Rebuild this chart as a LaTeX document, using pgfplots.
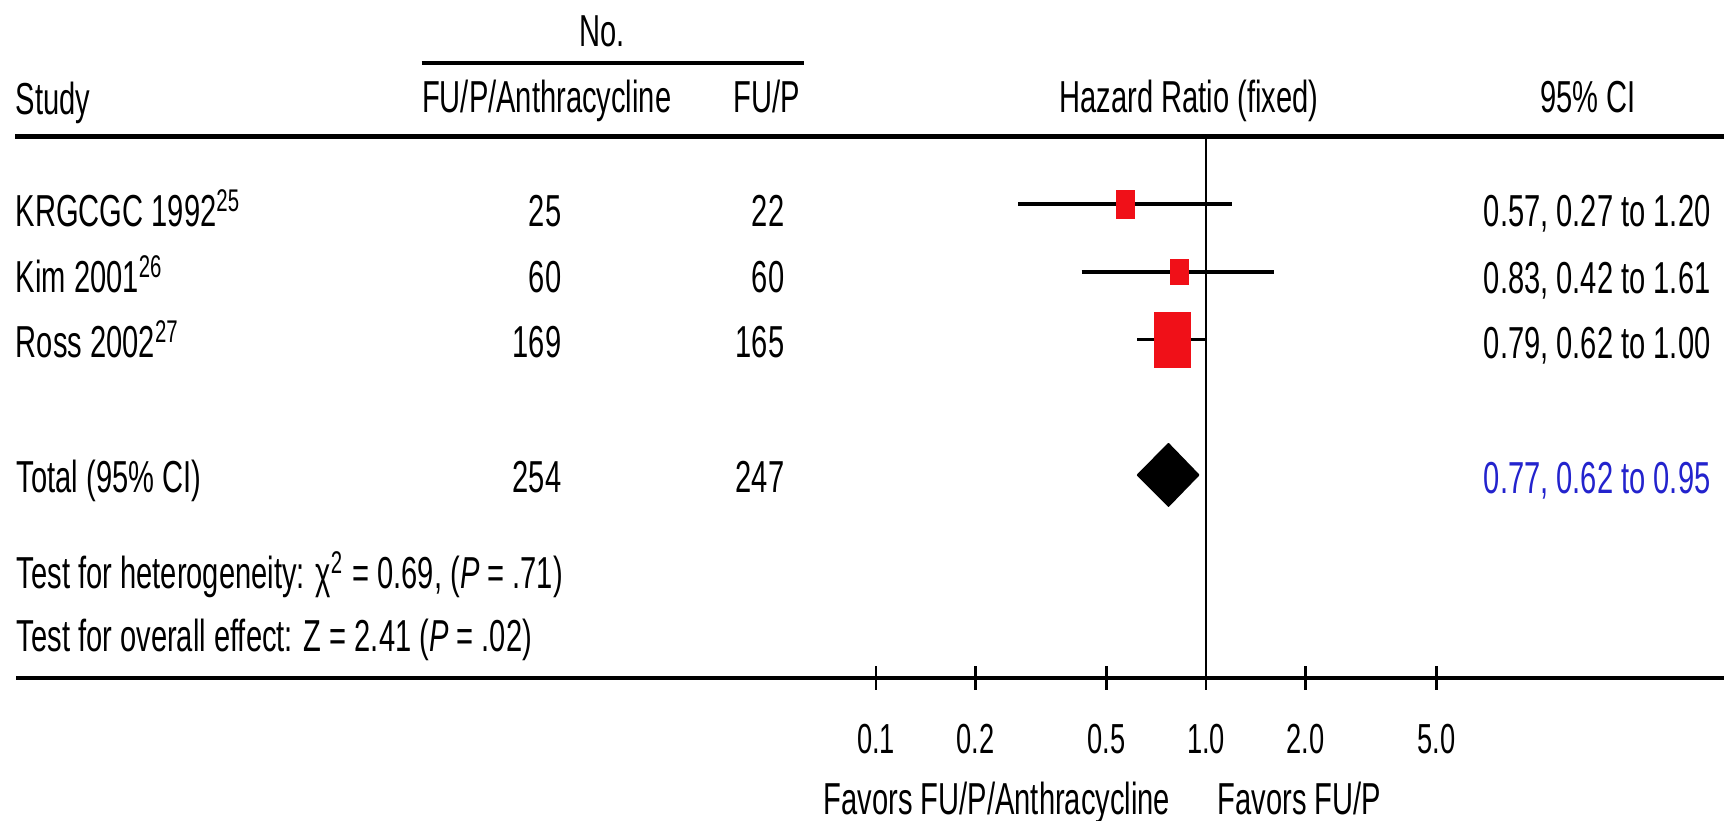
\documentclass[border=0pt]{standalone}
\usepackage{pgfplots}
\pgfplotsset{compat=1.18}
\usepackage{fontspec}
\setmainfont{Liberation Sans}[FakeStretch=0.65]
\definecolor{hrred}{RGB}{240,16,24}
\definecolor{ciblue}{RGB}{35,35,205}
\newcommand{\mf}{\fontsize{11.2}{13}\selectfont}
\begin{document}
\begin{tikzpicture}
\begin{axis}[
  at={(219pt,-169.5pt)}, anchor=south west,
  scale only axis, width=165pt, height=135.375pt,
  xmode=log, xmin=0.1, xmax=10, ymin=-8, ymax=0,
  clip=false,
  axis x line*=bottom, axis y line=none,
  x axis line style={draw=none},
  xtick={0.1,0.2,0.5,1,2,5},
  xticklabels={0.1,0.2,0.5,1.0,2.0,5.0},
  minor xtick={},
  ytick=\empty,
  xtick align=center,
  major tick length=5.75pt,
  every tick/.style={black, line width=0.6pt},
  xticklabel style={font=\fontsize{10.5}{12}\selectfont, anchor=base, yshift=-16.1pt, inner sep=0pt},
  /pgf/number format/assume math mode=true,
]
% study squares (drawn under the CI lines)
\addplot[hrred, only marks, mark=square*, mark size=3.4pt, mark options={xscale=0.66, fill=hrred, draw=none}] coordinates {(0.57,-1)};
\addplot[hrred, only marks, mark=square*, mark size=3.1pt, mark options={xscale=0.72, fill=hrred, draw=none}] coordinates {(0.83,-2)};
\addplot[hrred, only marks, mark=square*, mark size=6.8pt, mark options={xscale=0.656, fill=hrred, draw=none}] coordinates {(0.79,-3)};
% confidence intervals
\addplot[black, line width=0.9pt] coordinates {(0.27,-1) (1.20,-1)};
\addplot[black, line width=0.9pt] coordinates {(0.42,-2) (1.61,-2)};
\addplot[black, line width=0.9pt] coordinates {(0.62,-3) (1.00,-3)};
% line of no effect
\addplot[black, line width=0.65pt] coordinates {(1,0) (1,-8)};
% pooled estimate diamond
\addplot[fill=black, draw=black, line width=0.4pt, line join=round] coordinates {(0.62,-5) (0.77,-4.54) (0.95,-5) (0.77,-5.46) (0.62,-5)};
\end{axis}
\begin{scope}[x=0.25pt, y=-0.25pt, every node/.style={font=\mf, inner sep=0pt}]
\node[anchor=base] at (602,47) {No.};
\draw[line width=1pt] (421.7,63.3) -- (804,63.3);
\node[anchor=base west] at (15,115) {Study};
\node[anchor=base] at (546.7,113) {FU/P/Anthracycline};
\node[anchor=base east] at (801,113) {FU/P};
\node[anchor=base] at (1189,113) {Hazard Ratio (fixed)};
\node[anchor=base] at (1588,113) {95\% CI};
\draw[line width=1.2pt] (15,136.7) -- (1724,136.7);
% rows
\node[anchor=base west] at (15,227) {KRGCGC 1992\textsuperscript{25}};
\node[anchor=base east] at (562,227) {25};
\node[anchor=base east] at (785,227) {22};
\node[anchor=base west] at (1483,227) {0.57, 0.27 to 1.20};
\node[anchor=base west] at (15,293) {Kim 2001\textsuperscript{26}};
\node[anchor=base east] at (562,293) {60};
\node[anchor=base east] at (785,293) {60};
\node[anchor=base west] at (1483,294) {0.83, 0.42 to 1.61};
\node[anchor=base west] at (15,358) {Ross 2002\textsuperscript{27}};
\node[anchor=base east] at (562,358) {169};
\node[anchor=base east] at (785,358) {165};
\node[anchor=base west] at (1483,359) {0.79, 0.62 to 1.00};
\node[anchor=base west] at (16,493) {Total (95\% CI)};
\node[anchor=base east] at (562,493) {254};
\node[anchor=base east] at (785,493) {247};
\node[anchor=base west, text=ciblue] at (1483,494) {0.77, 0.62 to 0.95};
\node[anchor=base west] at (16,589) {Test for heterogeneity: χ\textsuperscript{2} = 0.69, (\textit{P} = .71)};
\node[anchor=base west] at (16,652) {Test for overall effect: Z = 2.41 (\textit{P} = .02)};
\draw[line width=1.2pt] (16,678) -- (1724,678);
\node[anchor=base west] at (823,815) {Favors FU/P/Anthracycline};
\node[anchor=base west] at (1217,815) {Favors FU/P};
\end{scope}
\pgfresetboundingbox
\useasboundingbox (0pt,0pt) rectangle (431pt,-205.25pt);
\end{tikzpicture}
\end{document}
